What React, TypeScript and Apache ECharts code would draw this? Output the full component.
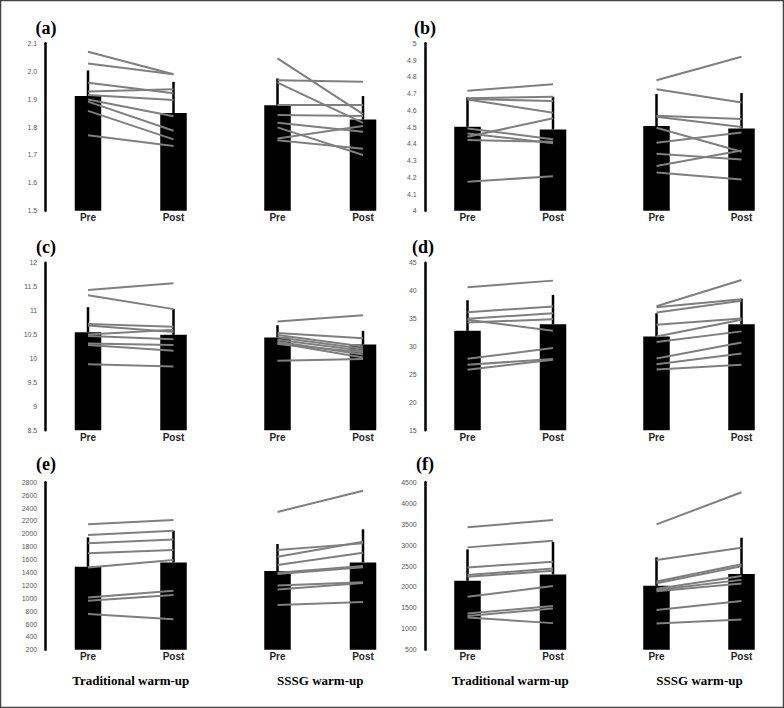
import React, { useEffect, useRef } from "react";
import * as echarts from "echarts";

const categories = ["Pre", "Post"];
const groupNames = ["Traditional warm-up", "SSSG warm-up"];

// (a)
const aTradMean = [1.911, 1.85];
const aTradErrTop = [2.003, 1.962];
const aTradLines = [[2.07, 1.989], [2.028, 1.989], [1.959, 1.921], [1.927, 1.935], [1.915, 1.897], [1.899, 1.839], [1.891, 1.787], [1.858, 1.756], [1.771, 1.732]];
const aSsgMean = [1.878, 1.827];
const aSsgErrTop = [1.974, 1.911];
const aSsgLines = [[2.046, 1.846], [1.968, 1.962], [1.959, 1.815], [1.879, 1.879], [1.843, 1.84], [1.815, 1.783], [1.799, 1.7], [1.759, 1.804], [1.753, 1.722]];

// (b)
const bTradMean = [4.502, 4.486];
const bTradErrTop = [4.677, 4.681];
const bTradLines = [[4.717, 4.755], [4.672, 4.681], [4.667, 4.655], [4.665, 4.585], [4.442, 4.552], [4.492, 4.427], [4.462, 4.403], [4.422, 4.412], [4.173, 4.207]];
const bSsgMean = [4.506, 4.492];
const bSsgErrTop = [4.697, 4.703];
const bSsgLines = [[4.779, 4.92], [4.725, 4.647], [4.568, 4.548], [4.562, 4.5], [4.496, 4.353], [4.406, 4.468], [4.341, 4.307], [4.267, 4.36], [4.229, 4.187]];

// (c)
const cTradMean = [10.549, 10.493];
const cTradErrTop = [11.07, 11.03];
const cTradLines = [[11.43, 11.57], [11.32, 11.03], [10.72, 10.66], [10.69, 10.55], [10.5, 10.6], [10.47, 10.4], [10.31, 10.28], [10.28, 10.16], [9.88, 9.83]];
const cSsgMean = [10.438, 10.292];
const cSsgErrTop = [10.694, 10.576];
const cSsgLines = [[10.77, 10.9], [10.53, 10.42], [10.49, 10.25], [10.44, 10.2], [10.39, 10.16], [10.35, 10.08], [10.3, 10.13], [10.32, 10.02], [9.95, 9.99]];

// (d)
const dTradMean = [32.8, 33.99];
const dTradErrTop = [38.27, 39.23];
const dTradLines = [[40.6, 41.79], [36.14, 37.15], [34.95, 35.96], [34.29, 34.89], [34.77, 32.8], [27.8, 29.71], [26.73, 27.75], [25.84, 27.6]];
const dSsgMean = [31.79, 33.99];
const dSsgErrTop = [35.95, 38.57];
const dSsgLines = [[37.2, 41.9], [37.0, 38.45], [36.1, 38.2], [33.9, 35.0], [31.8, 34.8], [30.8, 32.7], [27.85, 30.7], [26.8, 28.75], [25.85, 26.73]];

// (e)
const eTradMean = [1490, 1557];
const eTradErrTop = [1945, 2049];
const eTradLines = [[2147, 2215], [1982, 2049], [1852, 1914], [1697, 1749], [1479, 1593], [1013, 1117], [961, 1049], [754, 676]];
const eSsgMean = [1422, 1557];
const eSsgErrTop = [1842, 2070];
const eSsgLines = [[2339, 2670], [1749, 1852], [1645, 1878], [1515, 1707], [1396, 1500], [1376, 1480], [1200, 1250], [1137, 1235], [894, 941]];

// (f)
const fTradMean = [2149, 2301];
const fTradErrTop = [2898, 3074];
const fTradLines = [[3424, 3600], [2946, 3106], [2468, 2604], [2285, 2444], [2245, 2388], [1767, 2022], [1369, 1544], [1305, 1488], [1273, 1137]];
const fSsgMean = [2030, 2309];
const fSsgErrTop = [2707, 3177];
const fSsgLines = [[3496, 4261], [2643, 2938], [2130, 2545], [2090, 2495], [1960, 2260], [1930, 2170], [1900, 2085], [1448, 1663], [1130, 1225]];

const fmt1 = (v: number) => v.toFixed(1);
const fmtNum = (v: number) => String(Number(v.toFixed(2)));

const panels = [
  { label: "(a)", min: 1.5, max: 2.1, interval: 0.1, fmt: fmt1, groups: [{ mean: aTradMean, err: aTradErrTop, lines: aTradLines }, { mean: aSsgMean, err: aSsgErrTop, lines: aSsgLines }] },
  { label: "(b)", min: 4, max: 5, interval: 0.1, fmt: fmtNum, groups: [{ mean: bTradMean, err: bTradErrTop, lines: bTradLines }, { mean: bSsgMean, err: bSsgErrTop, lines: bSsgLines }] },
  { label: "(c)", min: 8.5, max: 12, interval: 0.5, fmt: fmtNum, groups: [{ mean: cTradMean, err: cTradErrTop, lines: cTradLines }, { mean: cSsgMean, err: cSsgErrTop, lines: cSsgLines }] },
  { label: "(d)", min: 15, max: 45, interval: 5, fmt: fmtNum, groups: [{ mean: dTradMean, err: dTradErrTop, lines: dTradLines }, { mean: dSsgMean, err: dSsgErrTop, lines: dSsgLines }] },
  { label: "(e)", min: 200, max: 2800, interval: 200, fmt: fmtNum, groups: [{ mean: eTradMean, err: eTradErrTop, lines: eTradLines }, { mean: eSsgMean, err: eSsgErrTop, lines: eSsgLines }] },
  { label: "(f)", min: 500, max: 4500, interval: 500, fmt: fmtNum, groups: [{ mean: fTradMean, err: fTradErrTop, lines: fTradLines }, { mean: fSsgMean, err: fSsgErrTop, lines: fSsgLines }] },
];

const rowTops = [43.3, 262.7, 482.3];
const gridHeight = 167.5;
const groupLefts = [
  [45.25, 234.75],
  [424.75, 614],
];
const gridWidth = 171;
const labelPos = [
  [46, 28], [425, 28],
  [46, 247], [423, 247],
  [46, 464], [425, 464],
];

const sansFont = "'Liberation Sans', Arial, sans-serif";
const serifFont = "'Liberation Serif', 'Times New Roman', serif";

function buildOption() {
  const grid: any[] = [];
  const xAxis: any[] = [];
  const yAxis: any[] = [];
  const series: any[] = [];
  const graphic: any[] = [];

  panels.forEach((p, i) => {
    const r = Math.floor(i / 2);
    const c = i % 2;
    p.groups.forEach((g, gi) => {
      const idx = i * 2 + gi;
      grid.push({ left: groupLefts[c][gi], top: rowTops[r], width: gridWidth, height: gridHeight, containLabel: false });
      xAxis.push({
        type: "category",
        gridIndex: idx,
        data: categories,
        boundaryGap: true,
        axisLine: { show: false },
        axisTick: { show: false },
        axisLabel: { fontSize: 10, fontWeight: "bold", color: "#262626", margin: 2, fontFamily: sansFont },
      });
      yAxis.push({
        type: "value",
        gridIndex: idx,
        min: p.min,
        max: p.max,
        interval: p.interval,
        splitLine: { show: false },
        axisTick: { show: false },
        axisLine: { show: gi === 0, onZero: false, lineStyle: { color: "#000", width: 2.5 } },
        axisLabel: { show: gi === 0, fontSize: 7, color: "#595959", margin: 8, fontFamily: sansFont, formatter: p.fmt },
      });
      series.push({
        type: "bar",
        xAxisIndex: idx,
        yAxisIndex: idx,
        data: g.mean,
        barWidth: 26.5,
        itemStyle: { color: "#000" },
        z: 1,
        silent: true,
      });
      series.push({
        type: "custom",
        xAxisIndex: idx,
        yAxisIndex: idx,
        data: g.mean.map((m, k) => [k, m, g.err[k]]),
        encode: { x: 0, y: [1, 2] },
        z: 2,
        silent: true,
        renderItem: (params: any, api: any) => {
          const a = api.coord([api.value(0), api.value(1)]);
          const b = api.coord([api.value(0), api.value(2)]);
          return {
            type: "line",
            shape: { x1: a[0], y1: a[1], x2: b[0], y2: b[1] },
            style: { stroke: "#000", lineWidth: 2.5 },
          };
        },
      });
      g.lines.forEach((ln) => {
        series.push({
          type: "line",
          xAxisIndex: idx,
          yAxisIndex: idx,
          data: ln,
          symbol: "none",
          lineStyle: { color: "#7f7f7f", width: 2 },
          z: 3,
          silent: true,
        });
      });
    });
    graphic.push({
      type: "text",
      x: labelPos[i][0],
      y: labelPos[i][1],
      style: { text: p.label, fontSize: 18, fontWeight: "bold", fontFamily: serifFont, fill: "#000", align: "center", verticalAlign: "middle" },
    });
  });

  // bottom group labels
  [0, 1].forEach((c) => {
    [0, 1].forEach((gi) => {
      const cx = groupLefts[c][gi] + gridWidth / 2;
      graphic.push({
        type: "text",
        x: cx,
        y: 680,
        style: { text: groupNames[gi], fontSize: 13, fontWeight: "bold", fontFamily: serifFont, fill: "#000", align: "center", verticalAlign: "middle" },
      });
    });
  });

  graphic.push({
    type: "rect",
    shape: { x: 0.5, y: 0.5, width: 783, height: 707 },
    style: { fill: "none", stroke: "#444", lineWidth: 1.5 },
    z: 100,
  });

  return { animation: false, backgroundColor: "#fff", grid, xAxis, yAxis, series, graphic };
}

export default function App() {
  const ref = useRef<HTMLDivElement>(null);
  useEffect(() => {
    if (!ref.current) return;
    const chart = echarts.init(ref.current, undefined, { renderer: "svg" });
    chart.setOption(buildOption() as any);
    return () => chart.dispose();
  }, []);
  return <div ref={ref} style={{ position: "fixed", left: 0, top: 0, width: 784, height: 708, background: "#fff" }} />;
}
